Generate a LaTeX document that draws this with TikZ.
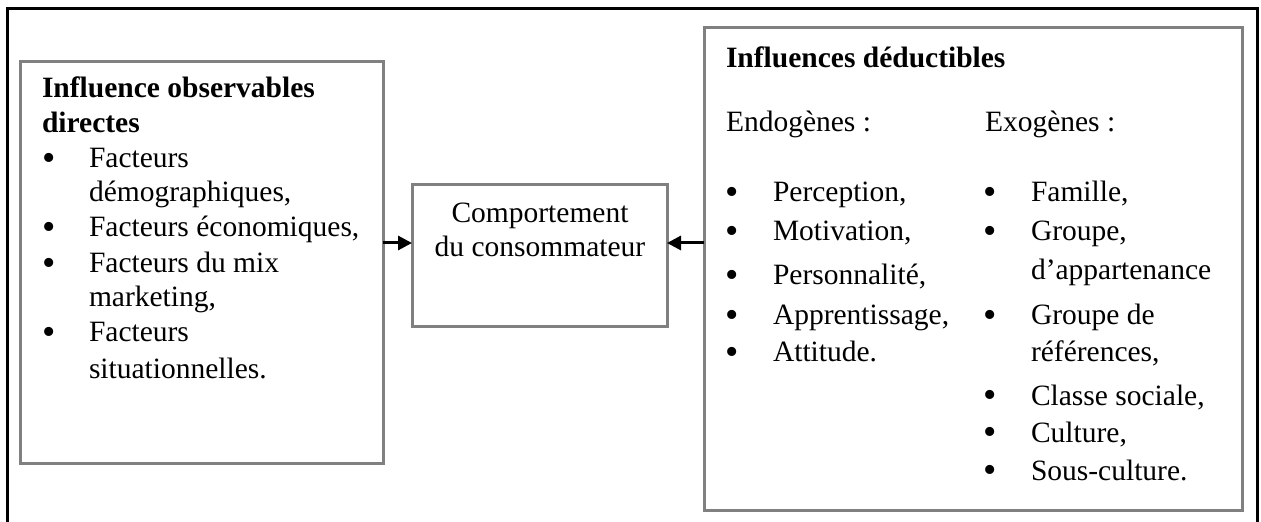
\documentclass[tikz,border=0pt]{standalone}
\usepackage{fontspec}
\setmainfont{Liberation Serif}
\usetikzlibrary{arrows.meta}
\definecolor{panelgray}{RGB}{128,128,128}
\begin{document}
\begin{tikzpicture}[x=1bp,y=-1bp,
  panel/.style={draw=panelgray, line width=3bp, inner sep=0pt, outer sep=0pt},
  txt/.style={anchor=base west, inner sep=0pt, outer sep=0pt,
    font=\fontsize{29.5bp}{35bp}\selectfont},
  head/.style={txt, font=\fontsize{29.5bp}{35bp}\selectfont\bfseries},
  centred/.style={txt, anchor=base},
  dot/.style={anchor=base, inner sep=0pt, outer sep=0pt, yshift=-2.5bp,
    font=\fontsize{38bp}{40bp}\selectfont},
  link/.style={line width=3bp, -{Triangle[length=14bp,width=14bp]}}]
\useasboundingbox (0,0) rectangle (1261,522);

% outer frame
\draw[line width=3bp] (7.5,8.5) rectangle (1257.5,540);

% the three panels
\node[panel, minimum width=362.5bp, minimum height=401.5bp] (obs) at (201.75,262.25) {};
\node[panel, minimum width=255bp, minimum height=142bp] (comp) at (539.5,256) {};
\node[panel, minimum width=538bp, minimum height=482bp] (ded) at (973,269) {};

% left panel: observable influences
\node[head] (obsA) at (42,98) {Influence observables};
\node[head] (obsB) at (42,132.5) {directes};
\node[dot] (ob1) at (49,168) {\textbullet};
\node[txt] (ot1) at (89,168) {Facteurs};
\node[txt] (ot1b) at (89,202) {démographiques,};
\node[dot] (ob2) at (49,237) {\textbullet};
\node[txt] (ot2) at (89,237) {Facteurs économiques,};
\node[dot] (ob3) at (49,273) {\textbullet};
\node[txt] (ot3) at (89,273) {Facteurs du mix};
\node[txt] (ot3b) at (89,307) {marketing,};
\node[dot] (ob4) at (49,342) {\textbullet};
\node[txt] (ot4) at (89,342) {Facteurs};
\node[txt] (ot4b) at (89,379) {situationnelles.};

% middle panel
\node[centred] (cA) at (540,223) {Comportement};
\node[centred] (cB) at (540,257) {du consommateur};

% right panel: deducible influences
\node[head] (dedA) at (726,68) {Influences déductibles};
\node[txt] (endo) at (726,132) {Endogènes :};
\node[txt] (exo) at (985,132) {Exogènes :};

\node[dot] (eb1) at (732,202) {\textbullet};
\node[txt] (et1) at (773,202) {Perception,};
\node[dot] (eb2) at (732,241) {\textbullet};
\node[txt] (et2) at (773,241) {Motivation,};
\node[dot] (eb3) at (732,285) {\textbullet};
\node[txt] (et3) at (773,285) {Personnalité,};
\node[dot] (eb4) at (732,325) {\textbullet};
\node[txt] (et4) at (773,325) {Apprentissage,};
\node[dot] (eb5) at (732,362) {\textbullet};
\node[txt] (et5) at (773,362) {Attitude.};

\node[dot] (xb1) at (990,202) {\textbullet};
\node[txt] (xt1) at (1031,202) {Famille,};
\node[dot] (xb2) at (990,241) {\textbullet};
\node[txt] (xt2) at (1031,241) {Groupe,};
\node[txt] (xt2b) at (1031,280) {d’appartenance};
\node[dot] (xb3) at (990,325) {\textbullet};
\node[txt] (xt3) at (1031,325) {Groupe de};
\node[txt] (xt3b) at (1031,362) {références,};
\node[dot] (xb4) at (990,405) {\textbullet};
\node[txt] (xt4) at (1031,405) {Classe sociale,};
\node[dot] (xb5) at (990,442) {\textbullet};
\node[txt] (xt5) at (1031,442) {Culture,};
\node[dot] (xb6) at (990,480) {\textbullet};
\node[txt] (xt6) at (1031,480) {Sous-culture.};

% arrows into the central panel
\draw[link] (obs.east |- 0,243) -- (comp.west |- 0,243);
\draw[link] (ded.west |- 0,243) -- (comp.east |- 0,243);
\end{tikzpicture}
\end{document}
